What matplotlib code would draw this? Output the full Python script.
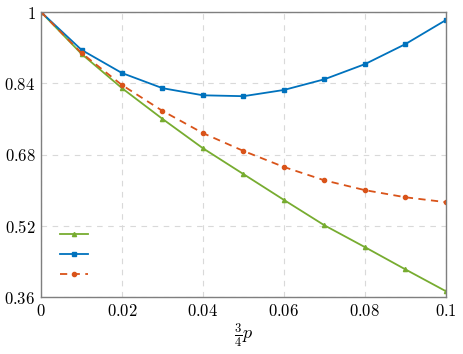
import matplotlib
matplotlib.use("Agg")
import matplotlib.pyplot as plt

plt.rcParams['mathtext.fontset'] = 'cm'
plt.rcParams['font.family'] = 'serif'
plt.rcParams['font.serif'] = ['cmr10', 'DejaVu Serif']
plt.rcParams['axes.formatter.use_mathtext'] = True

p = [0, 0.01, 0.02, 0.03, 0.04, 0.05, 0.06, 0.07, 0.08, 0.09, 0.1]
verde = [1, 0.906, 0.829, 0.760, 0.694, 0.636, 0.578, 0.521, 0.472, 0.422, 0.373]
azul = [1, 0.915, 0.863, 0.829, 0.813, 0.811, 0.825, 0.849, 0.883, 0.928, 0.982]
laranja = [1, 0.908, 0.836, 0.778, 0.728, 0.688, 0.652, 0.622, 0.600, 0.584, 0.573]

xticks = [0, 0.02, 0.04, 0.06, 0.08, 0.1]
xlabels = ['$0$', '$0.02$', '$0.04$', '$0.06$', '$0.08$', '$0.1$']
yticks = [0.36, 0.52, 0.68, 0.84, 1]
ylabels = ['$0.36$', '$0.52$', '$0.68$', '$0.84$', '$1$']

fig = plt.figure(figsize=(4.64, 3.54), dpi=100)
ax = fig.add_axes([0.0884, 0.161, 0.8726, 0.805])

l1, = ax.plot(p, verde, color='#77AC30', lw=1.3, marker='^', ms=3)
l2, = ax.plot(p, azul, color='#0072BD', lw=1.3, marker='s', ms=3.2)
l3, = ax.plot(p, laranja, color='#D95319', lw=1.3, ls=(0, (4, 3)), marker='o', ms=3)

ax.set_xlim(0, 0.1)
ax.set_ylim(0.36, 1)
ax.set_xticks(xticks)
ax.set_xticklabels(xlabels)
ax.set_yticks(yticks)
ax.set_yticklabels(ylabels)
ax.tick_params(length=0, labelsize=12, pad=4)
ax.grid(True, ls=(0, (5, 5)), color='#d9d9d9', lw=0.8)
for s in ax.spines.values():
    s.set_color('#7f7f7f')
    s.set_linewidth(1.0)
ax.set_xlabel(r'$\frac{3}{4}p$', fontsize=13, labelpad=2)

ax.legend([l1, l2, l3], ['', '', ''], loc='lower left', frameon=False,
          bbox_to_anchor=(0.047, 0.052), borderaxespad=0, borderpad=0,
          handlelength=2.0, labelspacing=0.55, numpoints=1)

fig.savefig('out.png', dpi=100)
